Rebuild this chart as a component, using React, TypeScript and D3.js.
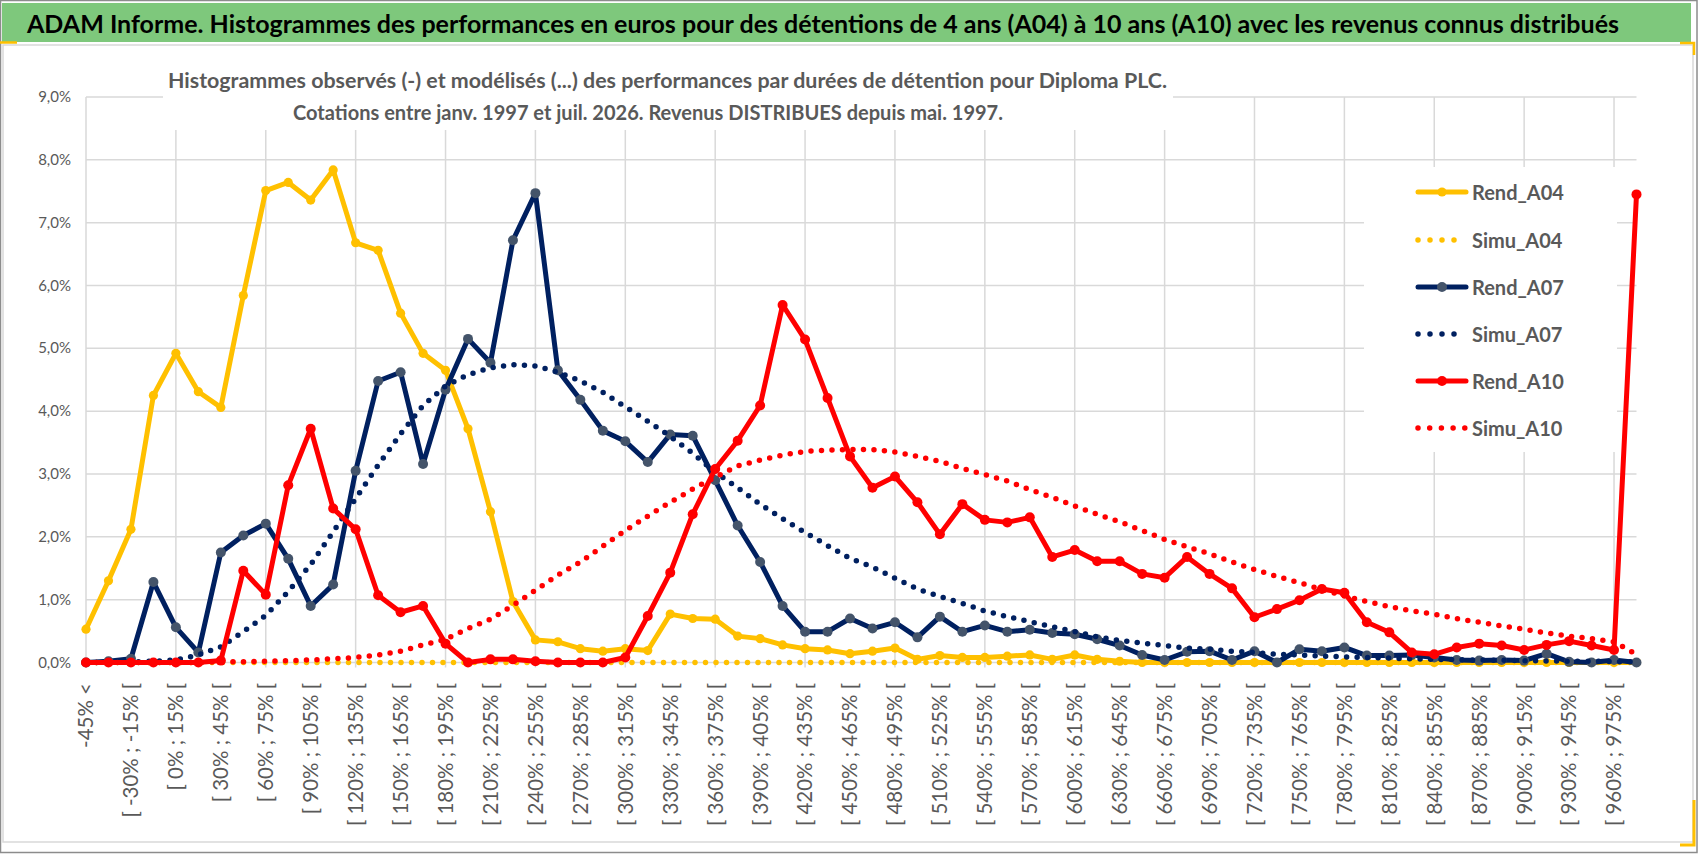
import React from 'react';
import * as d3 from 'd3';

// ---------- DATA ----------
const binLows = d3.range(-45, 990, 15);
const categories: string[] = ['-45% <', ...binLows.map((a) => `[ ${a}% ; ${a + 15}% [`)];
const yTicks = [0, 1, 2, 3, 4, 5, 6, 7, 8, 9];

const rendA04 = [
  0.53, 1.30, 2.12, 4.25, 4.92, 4.31, 4.06, 5.84, 7.51, 7.64,
  7.36, 7.84, 6.68, 6.56, 5.56, 4.92, 4.65, 3.72, 2.40, 0.97,
  0.36, 0.33, 0.22, 0.18, 0.22, 0.19, 0.77, 0.70, 0.69, 0.42,
  0.38, 0.28, 0.22, 0.20, 0.14, 0.18, 0.23, 0.05, 0.11, 0.08,
  0.08, 0.10, 0.12, 0.05, 0.12, 0.05, 0.02, 0.00, 0.00, 0.00,
  0.00, 0.00, 0.00, 0.00, 0.00, 0.00, 0.00, 0.00, 0.00, 0.00,
  0.00, 0.00, 0.00, 0.00, 0.00, 0.00, 0.00, 0.00, 0.00, 0.00,
];
const simuA04 = [
  0, 0, 0, 0, 0, 0, 0, 0, 0, 0,
  0, 0, 0, 0, 0, 0, 0, 0, 0, 0,
  0, 0, 0, 0, 0, 0, 0, 0, 0, 0,
  0, 0, 0, 0, 0, 0, 0, 0, 0, 0,
  0, 0, 0, 0, 0, 0, 0, 0, 0, 0,
  0, 0, 0, 0, 0, 0, 0, 0, 0, 0,
  0, 0, 0, 0, 0, 0, 0, 0, 0, 0,
];
const rendA07 = [
  0.00, 0.02, 0.06, 1.28, 0.56, 0.16, 1.75, 2.02, 2.21, 1.65,
  0.90, 1.24, 3.05, 4.48, 4.62, 3.16, 4.34, 5.15, 4.77, 6.72,
  7.47, 4.65, 4.18, 3.69, 3.52, 3.19, 3.63, 3.61, 2.90, 2.18,
  1.60, 0.90, 0.49, 0.49, 0.70, 0.54, 0.64, 0.40, 0.73, 0.49,
  0.59, 0.49, 0.52, 0.47, 0.45, 0.37, 0.27, 0.12, 0.04, 0.17,
  0.18, 0.04, 0.18, 0.00, 0.21, 0.18, 0.24, 0.11, 0.11, 0.12,
  0.08, 0.04, 0.03, 0.04, 0.03, 0.14, 0.01, 0.00, 0.04, 0.00,
];
const simuA07 = [
  0.00, 0.00, 0.01, 0.02, 0.04, 0.12, 0.25, 0.49, 0.75, 1.13,
  1.56, 2.08, 2.61, 3.14, 3.64, 4.09, 4.40, 4.58, 4.69, 4.74,
  4.72, 4.62, 4.48, 4.30, 4.07, 3.84, 3.60, 3.33, 3.03, 2.78,
  2.52, 2.29, 2.07, 1.86, 1.66, 1.52, 1.34, 1.17, 1.05, 0.94,
  0.82, 0.73, 0.65, 0.57, 0.49, 0.41, 0.35, 0.31, 0.27, 0.23,
  0.21, 0.18, 0.16, 0.13, 0.12, 0.10, 0.09, 0.08, 0.07, 0.06,
  0.05, 0.045, 0.04, 0.035, 0.03, 0.025, 0.02, 0.02, 0.015, 0.01,
];
const rendA10 = [
  0.00, 0.00, 0.00, 0.00, 0.00, 0.00, 0.03, 1.46, 1.08, 2.82,
  3.72, 2.45, 2.12, 1.07, 0.80, 0.90, 0.30, 0.00, 0.05, 0.05,
  0.02, 0.00, 0.00, 0.00, 0.08, 0.74, 1.43, 2.36, 3.08, 3.53,
  4.09, 5.69, 5.14, 4.21, 3.28, 2.78, 2.96, 2.55, 2.04, 2.52,
  2.27, 2.23, 2.31, 1.68, 1.79, 1.61, 1.61, 1.41, 1.35, 1.68,
  1.41, 1.18, 0.72, 0.85, 0.99, 1.17, 1.11, 0.64, 0.48, 0.16,
  0.13, 0.24, 0.30, 0.27, 0.20, 0.28, 0.34, 0.27, 0.20, 7.45,
];
const simuA10 = [
  0.00, 0.00, 0.00, 0.00, 0.00, 0.00, 0.01, 0.01, 0.02, 0.03,
  0.04, 0.06, 0.08, 0.12, 0.18, 0.28, 0.37, 0.54, 0.69, 0.91,
  1.15, 1.39, 1.60, 1.85, 2.10, 2.33, 2.55, 2.76, 2.95, 3.13,
  3.22, 3.30, 3.36, 3.38, 3.39, 3.39, 3.35, 3.28, 3.20, 3.09,
  2.99, 2.89, 2.75, 2.63, 2.49, 2.36, 2.24, 2.10, 1.96, 1.84,
  1.73, 1.60, 1.48, 1.37, 1.27, 1.16, 1.06, 0.97, 0.89, 0.82,
  0.77, 0.70, 0.64, 0.58, 0.53, 0.47, 0.42, 0.38, 0.33, 0.13,
];

const titleText =
  'ADAM Informe. Histogrammes des performances en euros pour des détentions de 4 ans (A04) à 10 ans (A10) avec les revenus connus distribués';
const subtitle1 =
  'Histogrammes observés (-) et modélisés (...) des performances par durées de détention pour Diploma PLC.';
const subtitle2 =
  'Cotations entre janv. 1997 et juil. 2026. Revenus DISTRIBUES depuis mai. 1997.';

type Series = {
  name: string;
  values: number[];
  color: string;
  dotted: boolean;
  marker?: string;
  r?: number;
};

const series: Series[] = [
  { name: 'Rend_A04', values: rendA04, color: '#FFC000', dotted: false, marker: '#FFC000', r: 4.6 },
  { name: 'Simu_A04', values: simuA04, color: '#FFC000', dotted: true },
  { name: 'Rend_A07', values: rendA07, color: '#002060', dotted: false, marker: '#44546A', r: 5 },
  { name: 'Simu_A07', values: simuA07, color: '#002060', dotted: true },
  { name: 'Rend_A10', values: rendA10, color: '#FF0000', dotted: false, marker: '#FF0000', r: 5 },
  { name: 'Simu_A10', values: simuA10, color: '#FF0000', dotted: true },
];

// ---------- LAYOUT ----------
const W = 1698;
const H = 854;
const FONT = 'Lato, "Open Sans", "DejaVu Sans", sans-serif';
const GRAY_TEXT = '#595959';
const GRID = '#d9d9d9';

const x = d3
  .scalePoint<number>()
  .domain(d3.range(categories.length))
  .range([86, 1636.5]);
const y = d3.scaleLinear().domain([0, 9]).range([662.5, 97]);

const lineGen = d3
  .line<number>()
  .x((_, i) => x(i) as number)
  .y((d) => y(d));

export default function App() {
  const plotLeft = x(0) as number;
  const plotRight = x(categories.length - 1) as number;
  const legendRows = [192, 240, 287, 334, 381, 428];
  const legendEnds = [1466, 1456, 1466, 1456, 1466, 1465];

  return (
    <div style={{ position: 'absolute', left: 0, top: 0 }}>
      <svg width={W} height={H} viewBox={`0 0 ${W} ${H}`} style={{ display: 'block', background: '#fff' }}>
        {/* frame */}
        <rect x={0.5} y={0.5} width={W - 1.5} height={H - 2} fill="#fff" stroke="#8c8c8c" strokeWidth={1.5} />
        <rect x={3} y={45} width={1690} height={797} fill="#fff" stroke={GRID} strokeWidth={1.5} />
        {/* header */}
        <rect x={2} y={3} width={1689} height={39} fill="#7ec87c" />
        <text
          x={27}
          y={32.5}
          fontFamily={FONT}
          fontWeight={700}
          fontSize={24.5}
          fill="#000"
          textLength={1592}
          lengthAdjust="spacingAndGlyphs"
        >
          {titleText}
        </text>
        {/* small gold accents */}
        <line x1={0} y1={42.5} x2={17} y2={42.5} stroke="#FFC000" strokeWidth={2.5} />
        <polyline points="1680,43 1694,43 1694,55" fill="none" stroke="#FFC000" strokeWidth={2.5} />
        <polyline points="1694,800 1694,845 1680,845" fill="none" stroke="#FFC000" strokeWidth={3} />

        {/* horizontal gridlines */}
        {yTicks.map((t) => (
          <line key={`h${t}`} x1={plotLeft} x2={plotRight} y1={y(t)} y2={y(t)} stroke={GRID} strokeWidth={1.5} />
        ))}
        {/* vertical gridlines */}
        {categories.map((_, i) =>
          i % 4 === 0 ? (
            <line
              key={`v${i}`}
              x1={x(i)}
              x2={x(i)}
              y1={y(9)}
              y2={y(0) + 5}
              stroke={GRID}
              strokeWidth={1.5}
            />
          ) : null
        )}

        {/* y tick labels */}
        {yTicks.map((t) => (
          <text
            key={`yl${t}`}
            x={71}
            y={y(t) + 5}
            textAnchor="end"
            fontFamily={FONT}
            fontSize={15}
            fill={GRAY_TEXT}
          >
            {`${t.toFixed(1).replace('.', ',')}%`}
          </text>
        ))}

        {/* x tick labels */}
        {categories.map((c, i) =>
          i % 2 === 0 ? (
            <text
              key={`xl${i}`}
              transform={`translate(${x(i)},683) rotate(-90)`}
              textAnchor="end"
              dy="0.36em"
              fontFamily={FONT}
              fontSize={20.5}
              fill={GRAY_TEXT}
            >
              {c}
            </text>
          ) : null
        )}

        {/* chart title box */}
        <rect x={163} y={58} width={1010} height={72} fill="#fff" />
        <text
          x={667.5}
          y={88}
          textAnchor="middle"
          fontFamily={FONT}
          fontWeight={700}
          fontSize={20.5}
          fill={GRAY_TEXT}
          textLength={999}
          lengthAdjust="spacingAndGlyphs"
        >
          {subtitle1}
        </text>
        <text
          x={648}
          y={120}
          textAnchor="middle"
          fontFamily={FONT}
          fontWeight={700}
          fontSize={20}
          fill={GRAY_TEXT}
          textLength={710}
          lengthAdjust="spacingAndGlyphs"
        >
          {subtitle2}
        </text>

        {/* legend box */}
        <rect x={1364} y={167} width={253} height={285} fill="#fff" />

        {/* series */}
        {series.map((s) => (
          <g key={s.name}>
            <path
              d={lineGen(s.values) || ''}
              fill="none"
              stroke={s.color}
              strokeWidth={s.dotted ? 5.5 : 5}
              strokeLinecap="round"
              strokeLinejoin="round"
              strokeDasharray={s.dotted ? '0 10.5' : undefined}
            />
            {!s.dotted &&
              s.values.map((v, i) => (
                <circle key={i} cx={x(i)} cy={y(v)} r={s.r} fill={s.marker} />
              ))}
          </g>
        ))}

        {/* legend */}
        {series.map((s, k) => {
          const cy = legendRows[k];
          return (
            <g key={`lg${s.name}`}>
              <line
                x1={1418}
                x2={legendEnds[k]}
                y1={cy}
                y2={cy}
                stroke={s.color}
                strokeWidth={s.dotted ? 5.5 : 5}
                strokeLinecap="round"
                strokeDasharray={s.dotted ? (k === 5 ? '0 11.7' : '0 12') : undefined}
              />
              {!s.dotted && <circle cx={1442} cy={cy} r={s.r} fill={s.marker} />}
              <text
                x={1472}
                y={cy + 7.5}
                fontFamily={FONT}
                fontWeight={700}
                fontSize={20}
                fill={GRAY_TEXT}
              >
                {s.name}
              </text>
            </g>
          );
        })}
      </svg>
    </div>
  );
}
